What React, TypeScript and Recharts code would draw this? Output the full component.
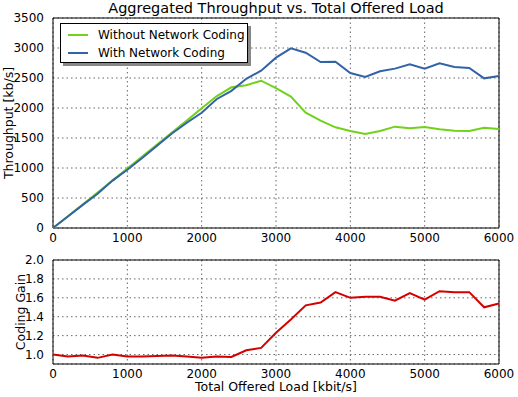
import React from 'react';
import {
  LineChart,
  Line,
  XAxis,
  YAxis,
  CartesianGrid,
  ReferenceArea,
} from 'recharts';

const load = [
  0, 200, 400, 600, 800, 1000, 1200, 1400, 1600, 1800, 2000, 2200, 2400, 2600, 2800, 3000,
  3200, 3400, 3600, 3800, 4000, 4200, 4400, 4600, 4800, 5000, 5200, 5400, 5600, 5800, 6000,
];
const withoutNC = [
  0, 195, 390, 590, 790, 990, 1190, 1390, 1590, 1790, 1995, 2195, 2345, 2380, 2455, 2330,
  2190, 1922, 1790, 1678, 1617, 1567, 1617, 1689, 1661, 1683, 1644, 1622, 1617, 1672, 1650,
];
const withNC = [
  0, 191, 386, 570, 790, 970, 1166, 1370, 1574, 1754, 1920, 2146, 2286, 2487, 2622, 2839,
  2995, 2922, 2767, 2772, 2583, 2517, 2611, 2656, 2728, 2656, 2744, 2683, 2667, 2494, 2533,
];
const codingGain = [
  1.0, 0.98, 0.99, 0.965, 1.0, 0.98, 0.98, 0.985, 0.99, 0.98, 0.965, 0.98, 0.975, 1.045, 1.07, 1.23,
  1.37, 1.52, 1.55, 1.66, 1.6, 1.61, 1.61, 1.57, 1.65, 1.58, 1.67, 1.66, 1.66, 1.5, 1.54,
];
const xTicks = [0, 1000, 2000, 3000, 4000, 5000, 6000];
const throughputTicks = [0, 500, 1000, 1500, 2000, 2500, 3000, 3500];
const gainTicks = [1.0, 1.2, 1.4, 1.6, 1.8, 2.0];

const topData = load.map((x, i) => ({ load: x, without: withoutNC[i], with: withNC[i] }));
const gainData = load.map((x, i) => ({ load: x, gain: codingGain[i] }));

const FONT = '"DejaVu Sans", sans-serif';
const tickStyle = { fill: '#000', fontSize: 12, fontFamily: FONT };

const legendItems = [
  { label: 'Without Network Coding', color: '#72d11a' },
  { label: 'With Network Coding', color: '#3263a6' },
];

function LegendBox() {
  return (
    <div
      style={{
        position: 'absolute',
        left: 60,
        top: 23,
        width: 188,
        height: 40,
        border: '1px solid #000',
        background: '#fff',
        boxShadow: '3px 3px 0 #888',
        fontFamily: FONT,
        fontSize: 12,
        color: '#000',
        boxSizing: 'border-box',
        paddingTop: 2,
      }}
    >
      {legendItems.map((it) => (
        <div key={it.label} style={{ display: 'flex', alignItems: 'center', height: 18 }}>
          <div style={{ width: 20, height: 2, background: it.color, marginLeft: 7, marginRight: 10 }} />
          <span>{it.label}</span>
        </div>
      ))}
    </div>
  );
}

export default function App() {
  return (
    <div style={{ position: 'absolute', left: 0, top: 0, width: 518, height: 397, background: '#fff' }}>
      <div
        style={{
          position: 'absolute',
          left: 53,
          width: 446,
          top: 0,
          textAlign: 'center',
          fontFamily: FONT,
          fontSize: 14.5,
          color: '#000',
        }}
      >
        Aggregated Throughput vs. Total Offered Load
      </div>
      <div style={{ position: 'absolute', left: 0, top: 0 }}>
        <LineChart width={518} height={252} data={topData} margin={{ top: 18, right: 19, left: 0, bottom: 0 }}>
          <CartesianGrid stroke="#666" strokeDasharray="1.5 3" />
          <XAxis
            dataKey="load"
            type="number"
            domain={[0, 6000]}
            ticks={xTicks}
            tick={tickStyle}
            tickLine={false}
            tickSize={3}
            axisLine={false}
            interval={0}
            height={24}
          />
          <YAxis
            type="number"
            domain={[0, 3500]}
            ticks={throughputTicks}
            tick={tickStyle}
            tickLine={false}
            axisLine={false}
            interval={0}
            width={53}
            tickMargin={3}
          />
          <ReferenceArea x1={0} x2={6000} y1={0} y2={3500} stroke="#000" strokeWidth={1} fill="none" fillOpacity={0} />
          <Line dataKey="without" stroke="#72d11a" strokeWidth={2} dot={false} isAnimationActive={false} />
          <Line dataKey="with" stroke="#3263a6" strokeWidth={2} dot={false} isAnimationActive={false} />
        </LineChart>
      </div>
      <LegendBox />
      <div style={{ position: 'absolute', left: 0, top: 245 }}>
        <LineChart width={518} height={145} data={gainData} margin={{ top: 15, right: 19, left: 0, bottom: 0 }}>
          <CartesianGrid stroke="#666" strokeDasharray="1.5 3" />
          <XAxis
            dataKey="load"
            type="number"
            domain={[0, 6000]}
            ticks={xTicks}
            tick={tickStyle}
            tickLine={false}
            tickSize={3}
            axisLine={false}
            interval={0}
            height={26}
          />
          <YAxis
            type="number"
            domain={[0.9, 2.0]}
            ticks={gainTicks}
            tick={tickStyle}
            tickFormatter={(v: number) => v.toFixed(1)}
            tickLine={false}
            axisLine={false}
            interval={0}
            width={53}
            tickMargin={3}
          />
          <ReferenceArea x1={0} x2={6000} y1={0.9} y2={2.0} stroke="#000" strokeWidth={1} fill="none" fillOpacity={0} />
          <Line dataKey="gain" stroke="#d40000" strokeWidth={2} dot={false} isAnimationActive={false} />
        </LineChart>
      </div>
      <div
        style={{
          position: 'absolute',
          left: 8,
          top: 123,
          transform: 'translate(-50%, -50%) rotate(-90deg)',
          whiteSpace: 'nowrap',
          fontFamily: FONT,
          fontSize: 12.5,
          color: '#000',
        }}
      >
        Throughput [kb/s]
      </div>
      <div
        style={{
          position: 'absolute',
          left: 20,
          top: 312,
          transform: 'translate(-50%, -50%) rotate(-90deg)',
          whiteSpace: 'nowrap',
          fontFamily: FONT,
          fontSize: 12.5,
          color: '#000',
        }}
      >
        Coding Gain
      </div>
      <div
        style={{
          position: 'absolute',
          left: 53,
          width: 446,
          top: 379,
          textAlign: 'center',
          fontFamily: FONT,
          fontSize: 12.5,
          color: '#000',
        }}
      >
        Total Offered Load [kbit/s]
      </div>
    </div>
  );
}
